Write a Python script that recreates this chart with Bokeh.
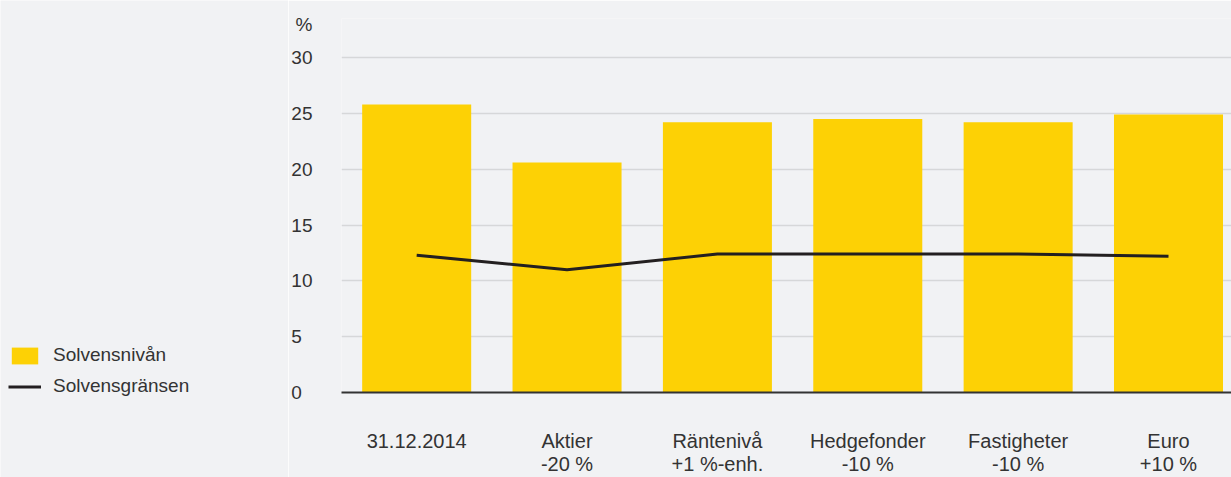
from bokeh.plotting import figure
from bokeh.layouts import row
from bokeh.models import Range1d, FixedTicker, Legend, LegendItem, ColumnDataSource, Grid
from bokeh.embed import file_html
from bokeh.resources import INLINE

# ---- data ----
categories = ["31.12.2014", "Aktier\n-20 %", "Räntenivå\n+1 %-enh.",
              "Hedgefonder\n-10 %", "Fastigheter\n-10 %", "Euro\n+10 %"]
solvensnivan = [25.8, 20.6, 24.2, 24.5, 24.2, 24.9]
solvensgransen = [12.3, 11.0, 12.4, 12.4, 12.4, 12.2]
y_ticks = [0, 5, 10, 15, 20, 25, 30]
y_tick_labels = {0: "0\u2007", 5: "5\u2007", 10: "10", 15: "15", 20: "20", 25: "25", 30: "30"}
series_names = ["Solvensnivån", "Solvensgränsen"]
unit_label = "%"
UNIT_POS = 33  # unit label sits above the top tick

# ---- styling ----
BG = "#f1f2f4"
BAR = "#fdd105"
LINE = "#231f20"
TXT = "#333333"
FONT = "Liberation Sans"

xs = list(range(len(categories)))
src = ColumnDataSource(dict(x=xs, niva=solvensnivan, grans=solvensgransen))

# ---------------- main chart ----------------
p = figure(width=943, height=477, output_backend="svg", toolbar_location=None, title=None,
           x_range=Range1d(-0.5, 5.419), y_range=Range1d(0, 33.5),
           min_border_left=53, min_border_right=0, min_border_top=18, min_border_bottom=85,
           background_fill_color=BG, border_fill_color=BG, outline_line_color=None)
p.frame_align = False

p.vbar(x="x", top="niva", width=0.725, source=src, fill_color=BAR, line_color=None)
p.line(x="x", y="grans", source=src, line_color=LINE, line_width=3)

# x axis
p.xaxis.ticker = FixedTicker(ticks=xs)
p.xaxis.major_label_overrides = {i: c for i, c in zip(xs, categories)}
p.xaxis.major_label_standoff = 37
p.xaxis.major_label_text_font = FONT
p.xaxis.major_label_text_font_size = "20px"
p.xaxis.major_label_text_line_height = 1.06
p.xaxis.major_label_text_color = TXT
p.xaxis.axis_line_color = "#333333"
p.xaxis.axis_line_width = 2
p.xaxis.major_tick_line_color = None
p.xaxis.minor_tick_line_color = None
p.xaxis.major_tick_out = 0
p.xaxis.major_tick_in = 0
p.xgrid.grid_line_color = None

# y axis (unit label shown as the top-most label)
labels = dict(y_tick_labels)
labels[UNIT_POS] = unit_label
p.yaxis.ticker = FixedTicker(ticks=y_ticks + [UNIT_POS])
p.yaxis.major_label_overrides = labels
p.yaxis.axis_line_color = None
p.yaxis.major_tick_line_color = None
p.yaxis.minor_tick_line_color = None
p.yaxis.major_tick_out = 0
p.yaxis.major_tick_in = 0
p.yaxis.major_label_standoff = 29
p.yaxis.major_label_text_font = FONT
p.yaxis.major_label_text_font_size = "19px"
p.yaxis.major_label_text_color = TXT
p.ygrid.ticker = FixedTicker(ticks=y_ticks)
p.ygrid.grid_line_color = "#d6d7d9"
p.ygrid.grid_line_width = 1.5

# ---------------- legend panel ----------------
lg = figure(width=288, height=477, output_backend="svg", toolbar_location=None, title=None,
            x_range=Range1d(-20, -19), y_range=Range1d(0, 30),
            x_axis_location=None, y_axis_location=None, min_border=0,
            background_fill_color=BG, border_fill_color=BG, outline_line_color=None)
lg.frame_align = False
for g in list(lg.center):
    if isinstance(g, Grid):
        g.visible = False
lbars = lg.vbar(x="x", top="niva", width=0.725, source=src, fill_color=BAR, line_color=None)
lline = lg.line(x="x", y="grans", source=src, line_color=LINE, line_width=3)

legend = Legend(items=[LegendItem(label=series_names[0], renderers=[lbars]),
                       LegendItem(label=series_names[1], renderers=[lline])],
                location=(8, 80), orientation="vertical",
                border_line_color=None, background_fill_alpha=0,
                padding=0, margin=0, spacing=9,
                glyph_width=33, glyph_height=21, label_height=17, label_standoff=12,
                label_text_font=FONT, label_text_font_size="19px", label_text_color=TXT)
lg.add_layout(legend)

layout = row(lg, p)
open("out.html", "w").write(file_html(layout, INLINE))
